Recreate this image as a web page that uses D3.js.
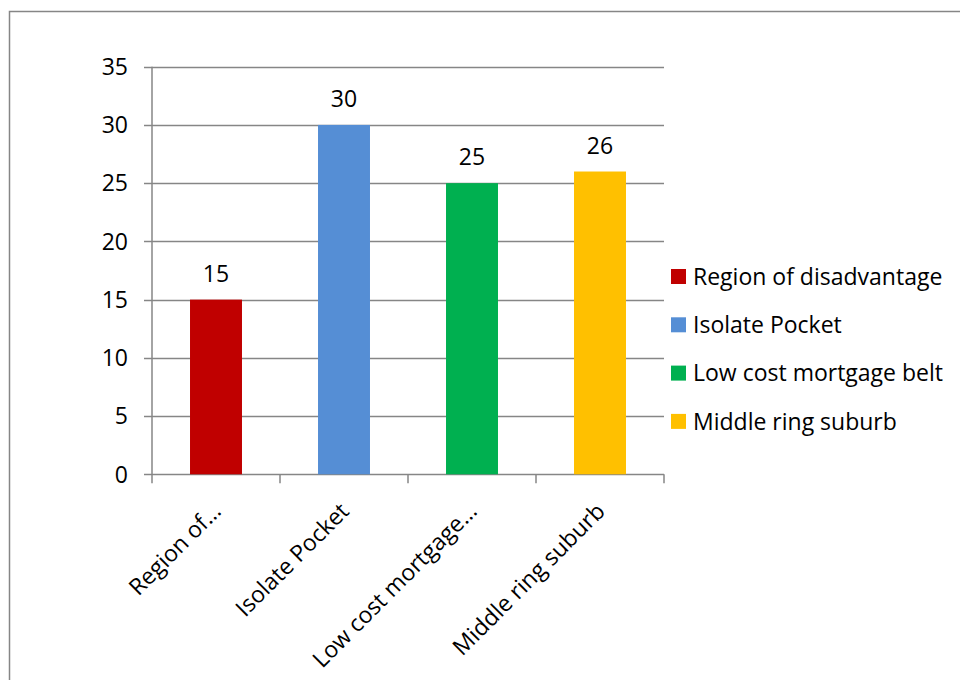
<!DOCTYPE html>
<html><head><meta charset="utf-8">
<script src="https://cdn.jsdelivr.net/npm/d3@7"></script>
<style>body{margin:0;background:#fff}svg{display:block}text{font-family:"Open Sans",sans-serif;fill:#000}</style>
</head><body><svg width="960" height="680"></svg>
<script>
const categories = ["Region of disadvantage","Isolate Pocket","Low cost mortgage belt","Middle ring suburb"];
const axisLabels = ["Region of…","Isolate Pocket","Low cost mortgage…","Middle ring suburb"];
const values = [15,30,25,26];
const colors = ["#C00000","#558ED5","#00B050","#FFC000"];
const yTicks = [0,5,10,15,20,25,30,35];

const svg = d3.select("svg");
const grid = "#868686";
svg.append("rect").attr("x",9.5).attr("y",11.5).attr("width",1000).attr("height",1000)
  .attr("fill","none").attr("stroke",grid).attr("stroke-width",1.5);

const x = d3.scaleBand().domain(categories).range([152,664]).paddingInner(0.594).paddingOuter(0.297);
const y = d3.scaleLinear().domain([0,35]).range([474.3,66.7]);
const fs = 23;

// gridlines
svg.append("g").selectAll("line").data(yTicks).join("line")
  .attr("x1",144).attr("x2",664).attr("y1",d=>Math.round(y(d))+0.5).attr("y2",d=>Math.round(y(d))+0.5)
  .attr("stroke",grid).attr("stroke-width",1.5);
// y axis line
svg.append("line").attr("x1",152).attr("x2",152).attr("y1",y(35)).attr("y2",y(0)).attr("stroke",grid).attr("stroke-width",1.5);
// y labels
svg.append("g").selectAll("text").data(yTicks).join("text")
  .attr("x",128).attr("y",d=>y(d)).attr("dy","0.36em").attr("text-anchor","end")
  .style("font-size",fs+"px").text(d=>d);
// x ticks at band boundaries
const step = x.step();
const bounds = d3.range(categories.length+1).map(i=>152+i*step);
svg.append("g").selectAll("line").data(bounds).join("line")
  .attr("x1",d=>d).attr("x2",d=>d).attr("y1",y(0)).attr("y2",y(0)+9).attr("stroke",grid).attr("stroke-width",1.5);
// bars
svg.append("g").selectAll("rect").data(values).join("rect")
  .attr("x",(d,i)=>x(categories[i])).attr("width",x.bandwidth())
  .attr("y",d=>y(d)).attr("height",d=>y(0)-y(d)).attr("fill",(d,i)=>colors[i]);
// value labels
svg.append("g").selectAll("text").data(values).join("text")
  .attr("x",(d,i)=>x(categories[i])+x.bandwidth()/2).attr("y",d=>y(d)-18)
  .attr("text-anchor","middle").style("font-size",fs+"px").text(d=>d);
// category labels
svg.append("g").selectAll("text").data(axisLabels).join("text")
  .attr("transform",(d,i)=>`translate(${x(categories[i])+x.bandwidth()/2-5},${y(0)+27}) rotate(-45)`)
  .attr("text-anchor","end").attr("dy","0.7em").style("font-size",fs+"px").text(d=>d);
// legend
const lg = svg.append("g").selectAll("g").data(categories).join("g")
  .attr("transform",(d,i)=>`translate(671,${269+i*48.3})`);
lg.append("rect").attr("width",15).attr("height",15).attr("fill",(d,i)=>colors[i]);
lg.append("text").attr("x",22).attr("y",7.5).attr("dy","0.36em").style("font-size",fs+"px").text(d=>d);
</script></body></html>
